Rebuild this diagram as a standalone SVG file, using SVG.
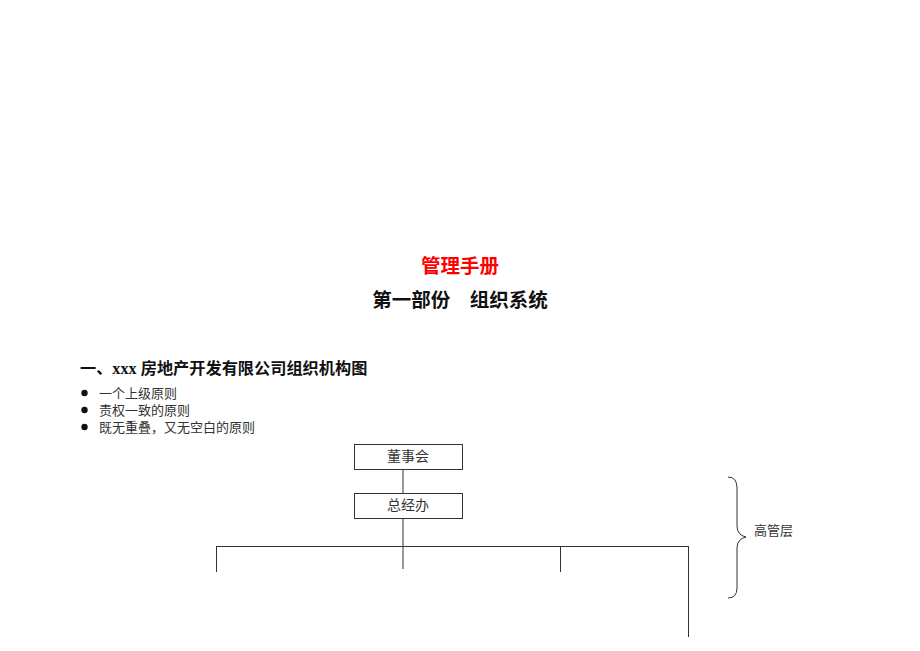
<svg xmlns="http://www.w3.org/2000/svg" width="920" height="651" viewBox="0 0 920 651">
<style>
.cjk{font-family:"Liberation Serif","Noto Sans CJK SC",serif;}
.sans{font-family:"Liberation Sans","Noto Sans CJK SC",sans-serif;}
.box{fill:#fff;stroke:#333;stroke-width:1;}
.ln{stroke:#333;stroke-width:1;fill:none;}
.lbl{font-size:14px;fill:#333;text-anchor:middle;}
.bul{font-size:13px;fill:#333;}
</style>
<rect width="920" height="651" fill="#fff"/>
<text class="sans" x="460" y="273" font-size="19.5" font-weight="bold" fill="#ff0000" text-anchor="middle">管理手册</text>
<text class="sans" x="460" y="307" font-size="19.5" font-weight="bold" fill="#111" text-anchor="middle" xml:space="preserve">第一部份　组织系统</text>
<text class="cjk" x="80" y="374" font-size="16.2" font-weight="bold" fill="#111">一、xxx 房地产开发有限公司组织机构图</text>
<g fill="#111">
<circle cx="84.5" cy="393" r="3.2"/>
<circle cx="84.5" cy="410" r="3.2"/>
<circle cx="84.5" cy="427" r="3.2"/>
</g>
<text class="cjk bul" x="99" y="397.5">一个上级原则</text>
<text class="cjk bul" x="99" y="414.5">责权一致的原则</text>
<text class="cjk bul" x="99" y="431.5">既无重叠，又无空白的原则</text>
<g id="connectors">
<line class="ln" x1="403" y1="469" x2="403" y2="493"/>
<line class="ln" x1="403" y1="518" x2="403" y2="569"/>
<line class="ln" x1="216" y1="546.5" x2="688" y2="546.5"/>
<line class="ln" x1="216.5" y1="546" x2="216.5" y2="572"/>
<line class="ln" x1="560.5" y1="546" x2="560.5" y2="572"/>
<line class="ln" x1="688.5" y1="546" x2="688.5" y2="637"/>
</g>
<g id="n1">
<rect class="box" x="354.5" y="444.5" width="108" height="25"/>
<text class="cjk lbl" x="408" y="461">董事会</text>
</g>
<g id="n2">
<rect class="box" x="354.5" y="493.5" width="108" height="25"/>
<text class="cjk lbl" x="408" y="510">总经办</text>
</g>
<g id="brace">
<path class="ln" d="M728,477 Q737,477 737,488 L737,526 Q737,535 746,537 Q737,539 737,548 L737,588 Q737,598 728,598"/>
<text class="cjk" x="754" y="535" font-size="13" fill="#333">高管层</text>
</g>
</svg>
